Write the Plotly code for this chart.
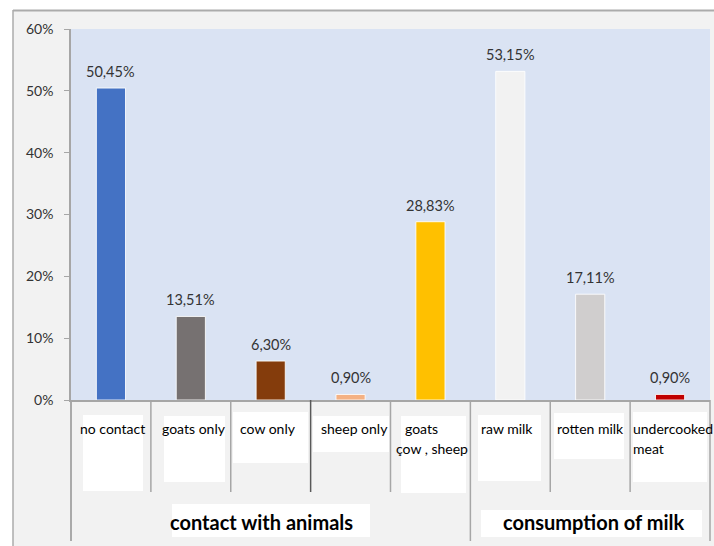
import plotly.graph_objects as go

# ---- data -------------------------------------------------------------
categories = ["no contact", "goats only", "cow only", "sheep only",
              "goats cow sheep", "raw milk", "rotten milk", "undercooked meat"]
values = [50.45, 13.51, 6.30, 0.90, 28.83, 53.15, 17.11, 0.90]
bar_colors = ["#4472C4", "#767171", "#843C0C", "#F4B183",
              "#FFC000", "#F2F2F2", "#D0CECE", "#C00000"]
# text lines drawn under each category
label_lines = [["no contact"], ["goats only"], ["cow only"], ["sheep only"],
               ["goats", "çow , sheep"], ["raw milk"], ["rotten milk"],
               ["undercooked", "meat"]]
group_names = ["contact with animals", "consumption of milk"]
group_spans = [(0, 4), (5, 7)]
y_ticks = [0, 10, 20, 30, 40, 50, 60]
y_tick_text = [f"{t}%" for t in y_ticks]

# ---- page geometry (pixels) ------------------------------------------
W, H = 714, 546
L, R, T, B = 71, 4, 29, 146
PW, PH = W - L - R, H - T - B
N = len(categories)
CW = PW / N


def fx(xpix):
    return (xpix - L) / PW


def fy(ypix):
    return (H - B - ypix) / PH


def edge(i):
    return L + i * CW


def center(i):
    return L + (i + 0.5) * CW


AX_COLOR = "#A6A6A6"
FONT = "Lato"

fig = go.Figure()
fig.add_trace(go.Bar(
    x=categories, y=values, width=0.365,
    marker=dict(color=bar_colors, line=dict(color="rgba(255,255,255,0.85)", width=1)),
    hoverinfo="skip", showlegend=False,
))

shapes = []
# white page strips around the chart area
shapes.append(dict(type="rect", xref="paper", yref="paper", layer="below",
                   x0=fx(0), x1=fx(W), y0=fy(10), y1=fy(0),
                   fillcolor="white", line=dict(width=0)))
shapes.append(dict(type="rect", xref="paper", yref="paper", layer="below",
                   x0=fx(0), x1=fx(13), y0=fy(H), y1=fy(10),
                   fillcolor="white", line=dict(width=0)))
# chart-area frame
shapes.append(dict(type="line", xref="paper", yref="paper",
                   x0=fx(13), x1=fx(W), y0=fy(10.5), y1=fy(10.5),
                   line=dict(color="#ABABAB", width=2)))
shapes.append(dict(type="line", xref="paper", yref="paper",
                   x0=fx(13), x1=fx(13), y0=fy(10), y1=fy(H),
                   line=dict(color="#ABABAB", width=1.5)))

# white text boxes behind the labels
boxes = [(83, 143, 415, 491), (164, 225, 416, 482), (233, 308, 412, 463),
         (313, 389, 416, 452), (401, 466, 416, 493), (478, 541, 415, 481),
         (554, 624, 413, 459), (633, 707, 412, 482),
         (172, 370, 504, 537), (481, 702, 510, 537)]
for x0, x1, y0, y1 in boxes:
    shapes.append(dict(type="rect", xref="paper", yref="paper",
                       x0=fx(x0), x1=fx(x1), y0=fy(y1), y1=fy(y0),
                       fillcolor="white", line=dict(width=0)))

# category separators below the axis
group_edges = {0, N}
for a, b in group_spans:
    group_edges.add(a)
    group_edges.add(b + 1)
for i in range(N + 1):
    bottom = 541 if i in group_edges else 492
    col = "#595959" if i == 3 else AX_COLOR
    shapes.append(dict(type="line", xref="paper", yref="paper",
                       x0=fx(edge(i)), x1=fx(edge(i)), y0=fy(400), y1=fy(bottom),
                       line=dict(color=col, width=1.5)))

annotations = []
# value labels above bars
for c, v in zip(categories, values):
    annotations.append(dict(
        x=c, y=v, xref="x", yref="y", yanchor="bottom", yshift=6,
        text=f"{v:.2f}".replace(".", ",") + "%", showarrow=False,
        font=dict(family=FONT, size=14.5, color="#333333")))

# category labels
single_dx = {0: 2, 1: 3, 2: -3, 3: 4, 5: -3, 6: 0}
multi_left = {4: [403, 394], 7: [631, 631]}
for i, lines in enumerate(label_lines):
    for k, line in enumerate(lines):
        ytop = 418 + 20 * k
        if i in multi_left:
            ann = dict(x=fx(multi_left[i][k]), xanchor="left")
        else:
            ann = dict(x=fx(center(i) + single_dx[i]), xanchor="center")
        ann.update(xref="paper", yref="paper", y=fy(ytop), yanchor="top",
                   text=line, showarrow=False,
                   font=dict(family=FONT, size=14, color="#000000"))
        annotations.append(ann)

# group titles
group_x = [261, 593]
for name, gx in zip(group_names, group_x):
    annotations.append(dict(
        x=fx(gx), y=fy(522), xref="paper", yref="paper",
        xanchor="center", yanchor="middle", text=f"<b>{name}</b>",
        showarrow=False, font=dict(family=FONT, size=20, color="#000000")))

fig.update_layout(
    width=W, height=H,
    margin=dict(l=L, r=R, t=T, b=B, pad=0),
    paper_bgcolor="#F2F2F2", plot_bgcolor="#DAE3F3",
    bargap=0.6, shapes=shapes, annotations=annotations,
    showlegend=False,
    xaxis=dict(type="category", categoryorder="array", categoryarray=categories,
               range=[-0.5, N - 0.5], showticklabels=False, ticks="",
               showline=True, linecolor=AX_COLOR, linewidth=1.5,
               showgrid=False, zeroline=False, fixedrange=True),
    yaxis=dict(range=[0, 60], tickmode="array", tickvals=y_ticks,
               ticktext=y_tick_text,
               ticks="outside", ticklen=5, tickcolor=AX_COLOR,
               showline=True, linecolor=AX_COLOR, linewidth=1.5,
               showgrid=False, zeroline=False, ticklabelstandoff=8,
               tickfont=dict(family=FONT, size=14, color="#333333"),
               fixedrange=True),
)
# extend the value axis line down through the label band
fig.add_shape(type="line", xref="paper", yref="paper",
              x0=0, x1=0, y0=fy(400), y1=fy(541),
              line=dict(color=AX_COLOR, width=1.5))

fig.write_html("out.html")
